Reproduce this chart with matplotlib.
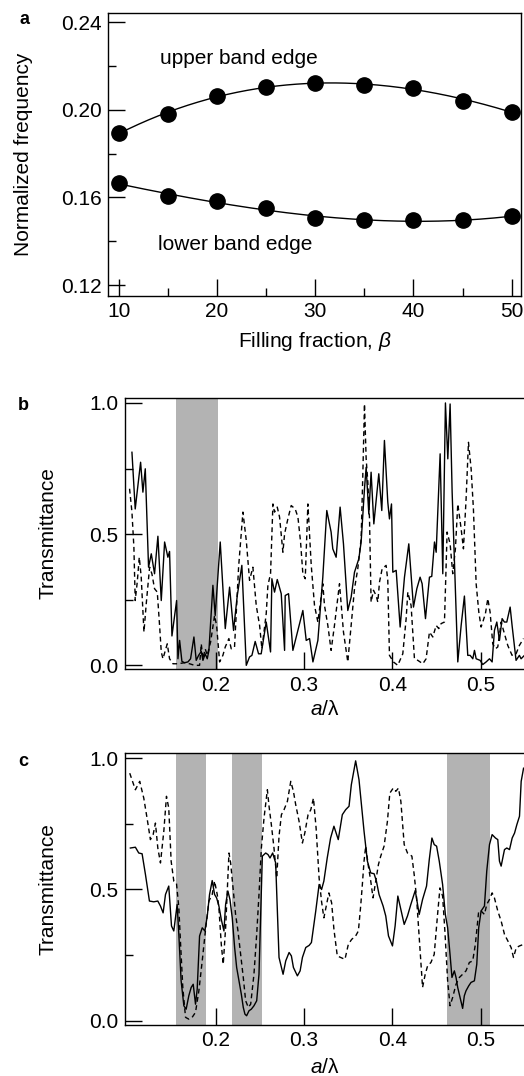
import numpy as np
import matplotlib.pyplot as plt

plt.rcParams['font.family'] = ['Liberation Sans', 'DejaVu Sans']
plt.rcParams['mathtext.fontset'] = 'custom'
plt.rcParams['mathtext.rm'] = 'Liberation Sans'
plt.rcParams['mathtext.it'] = 'Liberation Sans:italic'
plt.rcParams['font.size'] = 15

# ---- panel a: band edges vs filling fraction ----
beta = [10, 15, 20, 25, 30, 35, 40, 45, 50]
upper_edge = [0.1894, 0.1980, 0.2064, 0.2102, 0.2122, 0.2114, 0.2099, 0.2041, 0.1991]
lower_edge = [0.1664, 0.1608, 0.1582, 0.1550, 0.1506, 0.1495, 0.1495, 0.1497, 0.1513]

# ---- panel b: transmittance spectra ----
b_solid_x = [0.1049, 0.1086, 0.1147, 0.1173, 0.1200, 0.1237, 0.1268, 0.1305, 0.1343, 0.1381,
             0.1419, 0.1456, 0.1475, 0.1502, 0.1555, 0.1570, 0.1589, 0.1615, 0.1645, 0.1683,
             0.1713, 0.1751, 0.1777, 0.1804, 0.1834, 0.1853, 0.1879, 0.1902, 0.1921, 0.1966,
             0.1992, 0.2049, 0.2106, 0.2155, 0.2200, 0.2242, 0.2294, 0.2344, 0.2381, 0.2408,
             0.2445, 0.2483, 0.2513, 0.2570, 0.2619, 0.2634, 0.2664, 0.2695, 0.2740, 0.2778,
             0.2785, 0.2823, 0.2872, 0.2985, 0.3023, 0.3061, 0.3099, 0.3155, 0.3211, 0.3256,
             0.3305, 0.3324, 0.3362, 0.3407, 0.3445, 0.3494, 0.3532, 0.3570, 0.3619, 0.3645,
             0.3683, 0.3702, 0.3732, 0.3758, 0.3789, 0.3845, 0.3879, 0.3909, 0.3947, 0.3966,
             0.3989, 0.4004, 0.4042, 0.4087, 0.4136, 0.4185, 0.4238, 0.4276, 0.4313, 0.4336,
             0.4374, 0.4419, 0.4445, 0.4476, 0.4495, 0.4540, 0.4570, 0.4600, 0.4627, 0.4653,
             0.4676, 0.4740, 0.4778, 0.4815, 0.4853, 0.4880, 0.4910, 0.4929, 0.4948, 0.4993,
             0.5023, 0.5061, 0.5099, 0.5129, 0.5155, 0.5182, 0.5212, 0.5242, 0.5268, 0.5295,
             0.5333, 0.5355, 0.5400, 0.5438, 0.5457, 0.5495]
b_solid_y = [0.812, 0.596, 0.774, 0.660, 0.749, 0.374, 0.425, 0.349, 0.492, 0.247,
             0.470, 0.412, 0.434, 0.112, 0.247, 0.025, 0.095, 0.015, 0.010, 0.013,
             0.025, 0.108, 0.019, 0.038, 0.053, 0.019, 0.044, 0.025, 0.057, 0.305,
             0.190, 0.470, 0.140, 0.298, 0.133, 0.266, 0.381, 0.000, 0.032, 0.038,
             0.091, 0.044, 0.044, 0.165, 0.051, 0.330, 0.279, 0.327, 0.273, 0.057,
             0.266, 0.273, 0.057, 0.209, 0.095, 0.102, 0.013, 0.095, 0.336, 0.590,
             0.508, 0.444, 0.412, 0.603, 0.463, 0.209, 0.260, 0.355, 0.406, 0.470,
             0.673, 0.755, 0.577, 0.736, 0.539, 0.730, 0.590, 0.857, 0.622, 0.558,
             0.615, 0.355, 0.362, 0.146, 0.336, 0.463, 0.222, 0.292, 0.336, 0.311,
             0.178, 0.336, 0.339, 0.470, 0.431, 0.806, 0.349, 1.000, 0.787, 0.996,
             0.660, 0.013, 0.152, 0.264, 0.038, 0.038, 0.025, 0.057, 0.025, 0.019,
             0.003, 0.013, 0.025, 0.013, 0.133, 0.165, 0.095, 0.178, 0.165, 0.165,
             0.222, 0.152, 0.019, 0.038, 0.025, 0.038]
b_dash_x = [0.1022, 0.1049, 0.1071, 0.1086, 0.1109, 0.1132, 0.1154, 0.1185, 0.1211, 0.1249,
            0.1275, 0.1305, 0.1336, 0.1362, 0.1381, 0.1400, 0.1449, 0.1475, 0.1513, 0.1570,
            0.1645, 0.1702, 0.1758, 0.1815, 0.1834, 0.1853, 0.1879, 0.1902, 0.1940, 0.1985,
            0.2008, 0.2042, 0.2079, 0.2106, 0.2147, 0.2174, 0.2211, 0.2257, 0.2306, 0.2344,
            0.2381, 0.2419, 0.2457, 0.2495, 0.2521, 0.2570, 0.2589, 0.2619, 0.2646, 0.2664,
            0.2695, 0.2721, 0.2759, 0.2778, 0.2815, 0.2853, 0.2898, 0.2929, 0.2959, 0.2985,
            0.3012, 0.3042, 0.3061, 0.3080, 0.3117, 0.3155, 0.3211, 0.3230, 0.3268, 0.3305,
            0.3343, 0.3400, 0.3445, 0.3494, 0.3532, 0.3570, 0.3607, 0.3645, 0.3664, 0.3683,
            0.3702, 0.3721, 0.3740, 0.3758, 0.3785, 0.3815, 0.3834, 0.3853, 0.3883, 0.3928,
            0.3947, 0.3966, 0.4011, 0.4060, 0.4117, 0.4155, 0.4174, 0.4211, 0.4249, 0.4287,
            0.4344, 0.4381, 0.4419, 0.4457, 0.4495, 0.4525, 0.4551, 0.4589, 0.4619, 0.4653,
            0.4683, 0.4713, 0.4740, 0.4778, 0.4804, 0.4834, 0.4861, 0.4891, 0.4917, 0.4948,
            0.4978, 0.5004, 0.5023, 0.5053, 0.5080, 0.5106, 0.5136, 0.5166, 0.5193, 0.5231,
            0.5268, 0.5306, 0.5355, 0.5400, 0.5438, 0.5484]
b_dash_y = [0.673, 0.584, 0.450, 0.247, 0.317, 0.412, 0.336, 0.127, 0.235, 0.374,
            0.349, 0.292, 0.279, 0.152, 0.051, 0.025, 0.082, 0.025, 0.006, 0.006,
            0.010, 0.006, 0.000, 0.000, 0.082, 0.025, 0.063, 0.038, 0.089, 0.190,
            0.152, 0.013, 0.038, 0.070, 0.102, 0.063, 0.070, 0.374, 0.584, 0.476,
            0.324, 0.374, 0.228, 0.152, 0.063, 0.197, 0.305, 0.349, 0.615, 0.584,
            0.603, 0.565, 0.431, 0.501, 0.558, 0.609, 0.596, 0.565, 0.470, 0.349,
            0.330, 0.615, 0.501, 0.381, 0.228, 0.165, 0.311, 0.228, 0.152, 0.057,
            0.152, 0.311, 0.127, 0.013, 0.152, 0.292, 0.368, 0.482, 0.723, 0.996,
            0.787, 0.698, 0.558, 0.241, 0.286, 0.266, 0.241, 0.317, 0.368, 0.381,
            0.324, 0.038, 0.013, 0.000, 0.044, 0.178, 0.279, 0.228, 0.025, 0.019,
            0.006, 0.025, 0.127, 0.108, 0.152, 0.140, 0.159, 0.165, 0.508, 0.463,
            0.349, 0.444, 0.615, 0.520, 0.444, 0.634, 0.850, 0.749, 0.596, 0.311,
            0.203, 0.146, 0.165, 0.197, 0.254, 0.203, 0.082, 0.063, 0.070, 0.165,
            0.121, 0.076, 0.038, 0.044, 0.076, 0.102]
b_gaps = [(0.155, 0.202)]

# ---- panel c: transmittance spectra ----
c_solid_x = [0.1031, 0.1088, 0.1126, 0.1164, 0.1202, 0.1247, 0.1296, 0.1342, 0.1372, 0.1402,
             0.1429, 0.1466, 0.1497, 0.1523, 0.1561, 0.1580, 0.1606, 0.1637, 0.1663, 0.1693,
             0.1720, 0.1743, 0.1769, 0.1788, 0.1815, 0.1845, 0.1875, 0.1902, 0.1928, 0.1958,
             0.1985, 0.2008, 0.2034, 0.2061, 0.2091, 0.2110, 0.2136, 0.2159, 0.2185, 0.2212,
             0.2235, 0.2261, 0.2288, 0.2310, 0.2329, 0.2348, 0.2375, 0.2401, 0.2431, 0.2462,
             0.2488, 0.2526, 0.2564, 0.2590, 0.2613, 0.2643, 0.2677, 0.2715, 0.2761, 0.2791,
             0.2829, 0.2855, 0.2878, 0.2923, 0.2954, 0.2980, 0.3018, 0.3056, 0.3082, 0.3131,
             0.3169, 0.3197, 0.3223, 0.3261, 0.3299, 0.3337, 0.3386, 0.3432, 0.3470, 0.3508,
             0.3534, 0.3583, 0.3621, 0.3652, 0.3678, 0.3716, 0.3754, 0.3792, 0.3818, 0.3848,
             0.3894, 0.3924, 0.3955, 0.4000, 0.4030, 0.4061, 0.4095, 0.4133, 0.4170, 0.4208,
             0.4258, 0.4303, 0.4341, 0.4386, 0.4417, 0.4447, 0.4473, 0.4500, 0.4530, 0.4568,
             0.4599, 0.4625, 0.4652, 0.4674, 0.4701, 0.4720, 0.4739, 0.4765, 0.4795, 0.4814,
             0.4833, 0.4864, 0.4890, 0.4928, 0.4955, 0.4977, 0.5004, 0.5042, 0.5068, 0.5099,
             0.5129, 0.5167, 0.5193, 0.5212, 0.5231, 0.5269, 0.5295, 0.5326, 0.5356, 0.5383,
             0.5409, 0.5439, 0.5458, 0.5485]
c_solid_y = [0.658, 0.661, 0.639, 0.636, 0.557, 0.456, 0.453, 0.456, 0.437, 0.411,
             0.481, 0.513, 0.361, 0.342, 0.443, 0.329, 0.152, 0.057, 0.044, 0.095,
             0.127, 0.139, 0.063, 0.120, 0.323, 0.354, 0.342, 0.399, 0.481, 0.534,
             0.481, 0.468, 0.437, 0.386, 0.342, 0.443, 0.494, 0.462, 0.392, 0.279,
             0.203, 0.152, 0.101, 0.051, 0.025, 0.019, 0.038, 0.044, 0.057, 0.076,
             0.177, 0.627, 0.639, 0.633, 0.620, 0.639, 0.601, 0.241, 0.177, 0.228,
             0.260, 0.247, 0.203, 0.171, 0.190, 0.241, 0.279, 0.287, 0.298, 0.418,
             0.519, 0.500, 0.532, 0.620, 0.696, 0.741, 0.690, 0.785, 0.804, 0.817,
             0.899, 0.990, 0.918, 0.810, 0.722, 0.608, 0.563, 0.560, 0.532, 0.481,
             0.437, 0.399, 0.323, 0.285, 0.361, 0.475, 0.424, 0.367, 0.399, 0.443,
             0.496, 0.405, 0.462, 0.513, 0.614, 0.696, 0.671, 0.665, 0.608, 0.519,
             0.405, 0.354, 0.253, 0.165, 0.190, 0.165, 0.127, 0.089, 0.047, 0.095,
             0.114, 0.133, 0.146, 0.152, 0.215, 0.354, 0.418, 0.437, 0.570, 0.671,
             0.709, 0.696, 0.690, 0.608, 0.589, 0.652, 0.658, 0.652, 0.696, 0.715,
             0.747, 0.779, 0.912, 0.962]
c_dash_x = [0.1024, 0.1088, 0.1137, 0.1183, 0.1220, 0.1258, 0.1289, 0.1315, 0.1342, 0.1372,
            0.1410, 0.1440, 0.1466, 0.1493, 0.1523, 0.1553, 0.1580, 0.1599, 0.1625, 0.1656,
            0.1693, 0.1731, 0.1769, 0.1807, 0.1845, 0.1883, 0.1921, 0.1958, 0.1985, 0.2015,
            0.2034, 0.2061, 0.2083, 0.2110, 0.2129, 0.2148, 0.2167, 0.2197, 0.2223, 0.2250,
            0.2280, 0.2310, 0.2337, 0.2367, 0.2394, 0.2431, 0.2462, 0.2488, 0.2515, 0.2545,
            0.2583, 0.2602, 0.2628, 0.2658, 0.2689, 0.2715, 0.2742, 0.2772, 0.2810, 0.2848,
            0.2878, 0.2904, 0.2942, 0.2980, 0.3007, 0.3044, 0.3075, 0.3105, 0.3135, 0.3169,
            0.3196, 0.3223, 0.3250, 0.3280, 0.3311, 0.3337, 0.3375, 0.3413, 0.3462, 0.3500,
            0.3538, 0.3583, 0.3614, 0.3640, 0.3659, 0.3678, 0.3697, 0.3727, 0.3754, 0.3780,
            0.3811, 0.3841, 0.3867, 0.3905, 0.3943, 0.3970, 0.4008, 0.4038, 0.4068, 0.4095,
            0.4133, 0.4170, 0.4220, 0.4246, 0.4273, 0.4303, 0.4341, 0.4371, 0.4398, 0.4436,
            0.4473, 0.4511, 0.4538, 0.4568, 0.4595, 0.4625, 0.4652, 0.4682, 0.4720, 0.4758,
            0.4795, 0.4833, 0.4871, 0.4909, 0.4939, 0.4977, 0.5004, 0.5042, 0.5068, 0.5099,
            0.5129, 0.5155, 0.5193, 0.5231, 0.5269, 0.5307, 0.5345, 0.5371, 0.5402, 0.5439,
            0.5485]
c_dash_y = [0.943, 0.880, 0.912, 0.848, 0.772, 0.690, 0.709, 0.753, 0.658, 0.601,
            0.722, 0.855, 0.810, 0.608, 0.532, 0.525, 0.430, 0.298, 0.127, 0.013,
            0.006, 0.013, 0.032, 0.114, 0.228, 0.348, 0.456, 0.481, 0.532, 0.481,
            0.430, 0.291, 0.215, 0.354, 0.494, 0.639, 0.601, 0.494, 0.405, 0.342,
            0.253, 0.165, 0.076, 0.051, 0.063, 0.177, 0.329, 0.481, 0.658, 0.772,
            0.880, 0.817, 0.747, 0.658, 0.544, 0.703, 0.785, 0.804, 0.836, 0.912,
            0.874, 0.823, 0.760, 0.677, 0.715, 0.785, 0.804, 0.848, 0.734, 0.544,
            0.456, 0.392, 0.437, 0.487, 0.449, 0.348, 0.247, 0.241, 0.234, 0.291,
            0.310, 0.323, 0.342, 0.437, 0.519, 0.608, 0.665, 0.589, 0.532, 0.468,
            0.532, 0.595, 0.627, 0.665, 0.760, 0.867, 0.886, 0.874, 0.886, 0.836,
            0.671, 0.639, 0.627, 0.557, 0.468, 0.317, 0.127, 0.177, 0.209, 0.222,
            0.253, 0.405, 0.506, 0.475, 0.335, 0.152, 0.057, 0.089, 0.139, 0.165,
            0.177, 0.190, 0.222, 0.228, 0.291, 0.418, 0.418, 0.405, 0.443, 0.462,
            0.487, 0.468, 0.418, 0.380, 0.329, 0.304, 0.278, 0.241, 0.278, 0.285,
            0.291]
c_gaps = [(0.155, 0.189), (0.218, 0.252), (0.462, 0.511)]

shade = '#b3b3b3'
dash = (0, (3.5, 2.5))

fig = plt.figure(figsize=(5.24, 10.76), dpi=100)

# panel a
ax_a = fig.add_axes([0.2061, 0.7249, 0.7882, 0.2630])
fine = np.linspace(10, 50, 200)
for vals in (upper_edge, lower_edge):
    coef = np.polyfit(beta, vals, 3)
    ax_a.plot(fine, np.polyval(coef, fine), color='black', lw=1.0)
    ax_a.plot(beta, vals, 'o', color='black', ms=11)
ax_a.set_xlim(8.9, 50.95)
ax_a.set_ylim(0.115, 0.2441)
ax_a.set_xticks([10, 20, 30, 40, 50])
ax_a.set_xticks([15, 25, 35, 45], minor=True)
ax_a.set_yticks([0.12, 0.16, 0.20, 0.24])
ax_a.set_yticks([0.14, 0.18, 0.22], minor=True)
ax_a.set_yticklabels(['0.12', '0.16', '0.20', '0.24'])
ax_a.text(14.2, 0.2232, 'upper band edge', va='center', ha='left')
ax_a.text(14.0, 0.1387, 'lower band edge', va='center', ha='left')
ax_a.set_xlabel(r'Filling fraction, $\beta$', labelpad=6)
ax_a.set_ylabel('Normalized frequency', labelpad=20)

# panels b and c
ax_b = fig.add_axes([0.2385, 0.3780, 0.7615, 0.2524])
ax_c = fig.add_axes([0.2385, 0.0477, 0.7615, 0.2525])
panels = [(ax_b, b_solid_x, b_solid_y, b_dash_x, b_dash_y, b_gaps, 4),
          (ax_c, c_solid_x, c_solid_y, c_dash_x, c_dash_y, c_gaps, 6)]
for ax, sx, sy, dx, dy, gaps, xpad in panels:
    for lo, hi in gaps:
        ax.axvspan(lo, hi, color=shade, lw=0, zorder=0)
    ax.plot(sx, sy, color='black', lw=1.0)
    ax.plot(dx, dy, color='black', lw=1.0, linestyle=dash)
    ax.set_xlim(0.097, 0.549)
    ax.set_ylim(-0.015, 1.02)
    ax.set_xticks([0.2, 0.3, 0.4, 0.5])
    ax.set_yticks([0.0, 0.5, 1.0])
    ax.set_yticks([0.25, 0.75], minor=True)
    ax.set_yticklabels(['0.0', '0.5', '1.0'])
    ax.set_xlabel(r'$a$/λ', labelpad=xpad)
    ax.set_ylabel('Transmittance', labelpad=23)
    ax.spines['right'].set_visible(False)

for ax in (ax_a, ax_b, ax_c):
    ax.tick_params(which='major', direction='in', length=12, width=1.0, pad=4.5)
    ax.tick_params(which='minor', direction='in', length=6, width=1.0)
    for sp in ax.spines.values():
        sp.set_linewidth(1.0)

fig.text(24 / 524, 1 - 19 / 1076, 'a', weight='bold', fontsize=13, ha='center', va='center')
fig.text(23 / 524, 1 - 405 / 1076, 'b', weight='bold', fontsize=13, ha='center', va='center')
fig.text(23 / 524, 1 - 761 / 1076, 'c', weight='bold', fontsize=13, ha='center', va='center')

fig.savefig('out.png', dpi=100)
